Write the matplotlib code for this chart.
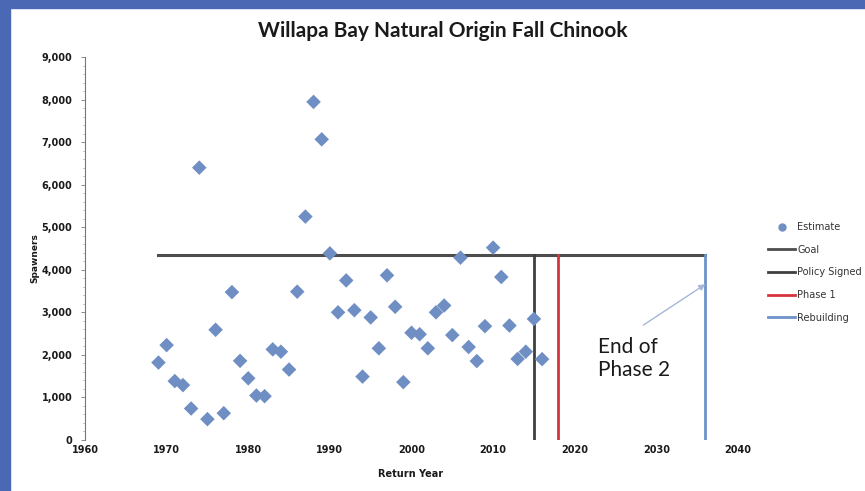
import matplotlib
matplotlib.use("Agg")
import matplotlib.pyplot as plt
from matplotlib.lines import Line2D
from matplotlib.patches import Rectangle
from matplotlib.ticker import MultipleLocator, FuncFormatter

# ---- data ----
years = list(range(1969, 2017))
spawners = [1820, 2230, 1385, 1290, 740, 6400, 490, 2590, 630, 3475,
            1860, 1450, 1045, 1030, 2130, 2075, 1655, 3485, 5250, 7945,
            7065, 4385, 3000, 3750, 3050, 1490, 2880, 2155, 3870, 3130,
            1360, 2520, 2485, 2155, 3000, 3160, 2465, 4285, 2185, 1855,
            2675, 4520, 3830, 2690, 1905, 2075, 2845, 1900]
goal_value = 4350
goal_years = [1969, 2036]
policy_year = 2015
phase1_year = 2018
rebuild_year = 2036
x_ticks = [1960, 1970, 1980, 1990, 2000, 2010, 2020, 2030, 2040]
y_ticks = [0, 1000, 2000, 3000, 4000, 5000, 6000, 7000, 8000, 9000]
title = "Willapa Bay Natural Origin Fall Chinook"
legend_labels = ["Estimate", "Goal", "Policy Signed", "Phase 1", "Rebuilding"]

# ---- styles ----
c_est = "#6f8fc4"
c_goal = "#4d4d4d"
c_policy = "#3f3f3f"
c_phase1 = "#d8343c"
c_rebuild = "#6d93c9"
c_frame = "#4a68b4"
W, H = 865, 491
fig = plt.figure(figsize=(W / 100, H / 100), dpi=100)
fig.patch.set_facecolor("white")

# slide frame (blue border on left and top)
fig.add_artist(Rectangle((0, 0), 10 / W, 1, transform=fig.transFigure,
                         color=c_frame, zorder=0))
fig.add_artist(Rectangle((0, 1 - 8 / H), 1, 8 / H, transform=fig.transFigure,
                         color=c_frame, zorder=0))

left, right = 85 / W, 738 / W
bottom, top = 1 - 440 / H, 1 - 57 / H
ax = fig.add_axes([left, bottom, right - left, top - bottom])
ax.set_xlim(1960, 2040)
ax.set_ylim(0, 9000)

# goal and vertical lines
ax.plot(goal_years, [goal_value, goal_value], color=c_goal, lw=2.2, zorder=2)
ax.plot([policy_year, policy_year], [0, goal_value], color=c_policy, lw=2.0, zorder=2)
ax.plot([phase1_year, phase1_year], [0, goal_value], color=c_phase1, lw=2.0, zorder=2)
ax.plot([rebuild_year, rebuild_year], [0, goal_value], color=c_rebuild, lw=2.0, zorder=2)

ax.scatter(years, spawners, marker="D", s=55, color=c_est, edgecolors="none", zorder=3)

# annotation
ax.annotate("", xy=(2036, 3660), xytext=(2028.4, 2700),
            arrowprops=dict(arrowstyle="-|>", color="#a7b6d6", lw=1.0,
                            mutation_scale=9, shrinkA=0, shrinkB=0))
ax.text(2022.9, 2430, "End of\nPhase 2", fontsize=15, family="Lato",
        color="#1a1a1a", va="top", ha="left", linespacing=1.2)

# axes styling
for s in ["top", "right", "bottom"]:
    ax.spines[s].set_visible(False)
ax.spines["left"].set_color("#777777")
ax.spines["left"].set_linewidth(0.8)
ax.set_xticks(x_ticks)
ax.set_yticks(y_ticks)
ax.yaxis.set_major_formatter(FuncFormatter(lambda v, p: f"{int(v):,}"))
ax.yaxis.set_minor_locator(MultipleLocator(200))
ax.tick_params(axis="x", length=0, pad=3.5, labelsize=7)
ax.tick_params(axis="y", which="major", length=3, width=0.6, color="#777777",
               pad=6, labelsize=7)
ax.tick_params(axis="y", which="minor", length=1.5, width=0.5, color="#999999")
for lab in ax.get_xticklabels() + ax.get_yticklabels():
    lab.set_fontweight("bold")
    lab.set_color("#1a1a1a")

fig.text(35 / W, 1 - 258 / H, "Spawners", rotation=90, ha="center", va="center",
         fontsize=6.5, fontweight="bold", color="#1a1a1a")
fig.text(411 / W, 1 - 474 / H, "Return Year", ha="center", va="center",
         fontsize=7, fontweight="bold", color="#1a1a1a")
fig.text(443 / W, 1 - 31 / H, title, ha="center", va="center",
         fontsize=15, fontweight="bold", family="Lato", color="#1a1a1a")

handles = [
    Line2D([], [], marker="o", linestyle="none", color=c_est, markersize=5),
    Line2D([], [], color=c_goal, lw=2),
    Line2D([], [], color=c_policy, lw=2),
    Line2D([], [], color=c_phase1, lw=2),
    Line2D([], [], color=c_rebuild, lw=2),
]
leg = fig.legend(handles, legend_labels, loc="upper left",
                 bbox_to_anchor=(768 / W, 1 - 222 / H), frameon=False,
                 fontsize=7, handlelength=2.8, handletextpad=0.2,
                 labelspacing=1.3, borderaxespad=0, borderpad=0)
for t in leg.get_texts():
    t.set_color("#333333")

fig.savefig("out.png", dpi=100)
